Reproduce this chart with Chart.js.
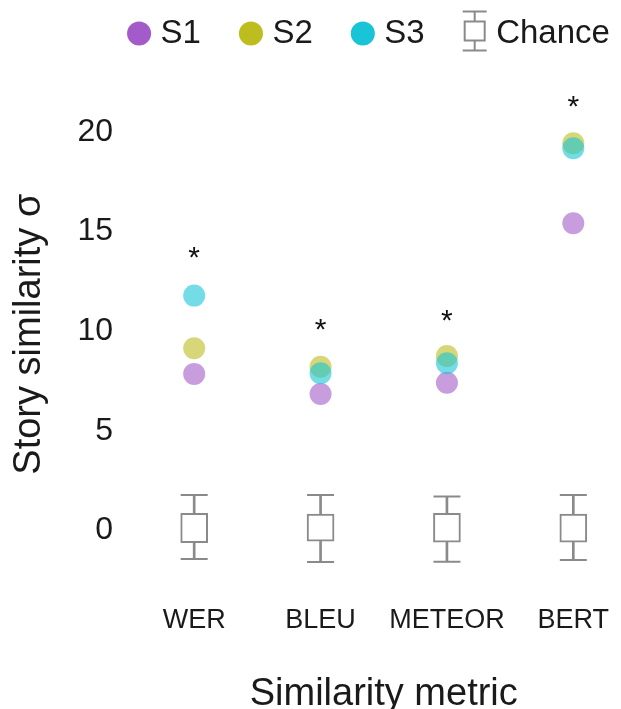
<!DOCTYPE html>
<html>
<head>
<meta charset="utf-8">
<script src="https://cdn.jsdelivr.net/npm/chart.js@4/dist/chart.umd.min.js"></script>
<style>
  html, body { margin: 0; padding: 0; background: #ffffff; overflow: hidden; }
  #wrap { width: 621px; height: 709px; overflow: hidden; }
</style>
</head>
<body>
<div id="wrap"><canvas id="c" width="652" height="709"></canvas></div>
<script>
// ---- data ----
const categories = ['WER', 'BLEU', 'METEOR', 'BERT'];
const seriesNames = ['S1', 'S2', 'S3'];
const s1Values = [7.86, 6.85, 7.42, 15.42];
const s2Values = [9.15, 8.22, 8.76, 19.44];
const s3Values = [11.79, 7.89, 8.39, 19.19];
const significanceY = [13.97, 10.32, 10.77, 21.53];
const chanceLow  = [-1.43, -1.58, -1.57, -1.48];
const chanceQ1   = [-0.61, -0.53, -0.59, -0.58];
const chanceQ3   = [0.86, 0.83, 0.86, 0.83];
const chanceHigh = [1.78, 1.78, 1.70, 1.78];
const yTickValues = [0, 5, 10, 15, 20];
const xTickValues = [0, 1, 2, 3];

// ---- styles ----
const FONT = '"Liberation Sans", Arial, Helvetica, sans-serif';
const TEXT = '#1a1a1a';
const GREY = '#8a8a8a';
const C1 = '#a25bc8', C2 = '#bdbd1f', C3 = '#18c4d6';
function rgba(hex, a) {
  const n = parseInt(hex.slice(1), 16);
  return `rgba(${(n >> 16) & 255},${(n >> 8) & 255},${n & 255},${a})`;
}
const PT_ALPHA = 0.6;
const Y_AXIS_WIDTH = 131;
const X_AXIS_HEIGHT = 128.7;

const pts = (arr) => arr.map((v, i) => ({ x: i, y: v }));

// legend icon for Chance (box with whiskers)
function chanceIcon() {
  const cv = document.createElement('canvas');
  cv.width = 26; cv.height = 48;
  const g = cv.getContext('2d');
  g.strokeStyle = GREY; g.lineWidth = 2;
  g.beginPath();
  g.moveTo(1, 2); g.lineTo(25, 2);
  g.moveTo(13, 2); g.lineTo(13, 12);
  g.moveTo(13, 31); g.lineTo(13, 41);
  g.moveTo(1, 41); g.lineTo(25, 41);
  g.stroke();
  g.strokeRect(3, 12, 20, 19);
  return cv;
}

const legendShift = {
  id: 'legendShift',
  afterLayout(chart) {
    const lg = chart.legend;
    if (!lg) return;
    lg.left += 46; lg.right += 46;
    lg.top -= 28; lg.bottom -= 28;
  }
};

const asterisks = {
  id: 'asterisks',
  afterDatasetsDraw(chart) {
    const { ctx, scales: { x, y } } = chart;
    ctx.save();
    ctx.font = '30px ' + FONT;
    ctx.fillStyle = '#111';
    ctx.textAlign = 'center';
    ctx.textBaseline = 'alphabetic';
    const m = ctx.measureText('*');
    const off = (m.actualBoundingBoxAscent - m.actualBoundingBoxDescent) / 2;
    significanceY.forEach((v, i) => {
      ctx.fillText('*', x.getPixelForValue(i), y.getPixelForValue(v) + off);
    });
    ctx.restore();
  }
};

const icon = chanceIcon();

new Chart(document.getElementById('c'), {
  type: 'scatter',
  data: {
    datasets: [
      { label: 'S1', data: pts(s1Values), order: 3, pointRadius: 11, pointBorderWidth: 0,
        pointBackgroundColor: rgba(C1, PT_ALPHA), backgroundColor: C1 },
      { label: 'S2', data: pts(s2Values), order: 2, pointRadius: 11, pointBorderWidth: 0,
        pointBackgroundColor: rgba(C2, PT_ALPHA), backgroundColor: C2 },
      { label: 'S3', data: pts(s3Values), order: 1, pointRadius: 11, pointBorderWidth: 0,
        pointBackgroundColor: rgba(C3, PT_ALPHA), backgroundColor: C3 },
      { type: 'bar', label: 'Chance', order: 5, grouped: false,
        data: categories.map((c, i) => ({ x: i, y: [chanceQ1[i], chanceQ3[i]] })),
        backgroundColor: '#ffffff', borderColor: GREY, borderWidth: 2, borderSkipped: false,
        maxBarThickness: 27, barPercentage: 1, categoryPercentage: 1 },
      { type: 'bar', label: 'whisker', order: 6, grouped: false,
        data: categories.map((c, i) => ({ x: i, y: [chanceLow[i], chanceHigh[i]] })),
        backgroundColor: GREY, borderWidth: 0,
        maxBarThickness: 2, barPercentage: 1, categoryPercentage: 1 },
      { label: 'caps', order: 4,
        data: categories.flatMap((c, i) => [{ x: i, y: chanceLow[i] }, { x: i, y: chanceHigh[i] }]),
        pointStyle: 'line', pointRadius: 13.5, pointBorderWidth: 2, pointBorderColor: GREY }
    ]
  },
  options: {
    responsive: false,
    devicePixelRatio: 1,
    animation: false,
    events: [],
    layout: { padding: 0 },
    plugins: {
      tooltip: { enabled: false },
      legend: {
        position: 'top',
        align: 'center',
        fullSize: true,
        labels: {
          usePointStyle: true,
          boxWidth: 10,
          boxHeight: 17,
          padding: 45,
          color: TEXT,
          font: { family: FONT, size: 33 },
          generateLabels() {
            const cols = [C1, C2, C3];
            const items = seriesNames.map((n, i) => ({
              text: n, fillStyle: cols[i], strokeStyle: cols[i], lineWidth: 0,
              pointStyle: 'circle', hidden: false, datasetIndex: i, fontColor: TEXT
            }));
            items.push({ text: 'Chance', fillStyle: 'rgba(0,0,0,0)', strokeStyle: GREY, lineWidth: 0,
              pointStyle: icon, hidden: false, datasetIndex: 3, fontColor: TEXT });
            return items;
          }
        }
      }
    },
    scales: {
      x: {
        type: 'linear',
        offset: false,
        min: -0.5, max: 3.5,
        afterBuildTicks: (s) => { s.ticks = xTickValues.map(v => ({ value: v })); },
        afterFit: (s) => { s.paddingLeft = 0; s.paddingRight = 0; s.height = X_AXIS_HEIGHT; },
        grid: { display: false, drawTicks: false, offset: false },
        border: { display: false },
        ticks: {
          padding: 24,
          color: TEXT,
          font: { family: FONT, size: 27 },
          maxRotation: 0,
          autoSkip: false,
          callback: (v) => categories[v] ?? ''
        },
        title: {
          display: true, text: 'Similarity metric', color: TEXT,
          font: { family: FONT, size: 38, lineHeight: 0.75 },
          padding: { top: 43.8, bottom: 0 }
        }
      },
      y: {
        type: 'linear',
        min: -2.5, max: 22.21,
        afterBuildTicks: (s) => { s.ticks = yTickValues.map(v => ({ value: v })); },
        afterFit: (s) => { s.paddingTop = 0; s.paddingBottom = 0; s.width = Y_AXIS_WIDTH; },
        grid: { display: false, drawTicks: false },
        border: { display: false },
        ticks: {
          padding: 18,
          color: TEXT,
          font: { family: FONT, size: 32 }
        },
        title: {
          display: true, text: 'Story similarity σ', color: TEXT,
          font: { family: FONT, size: 38, lineHeight: 1 },
          padding: { top: 10.5, bottom: 10 }
        }
      }
    }
  },
  plugins: [legendShift, asterisks]
});
</script>
</body>
</html>
